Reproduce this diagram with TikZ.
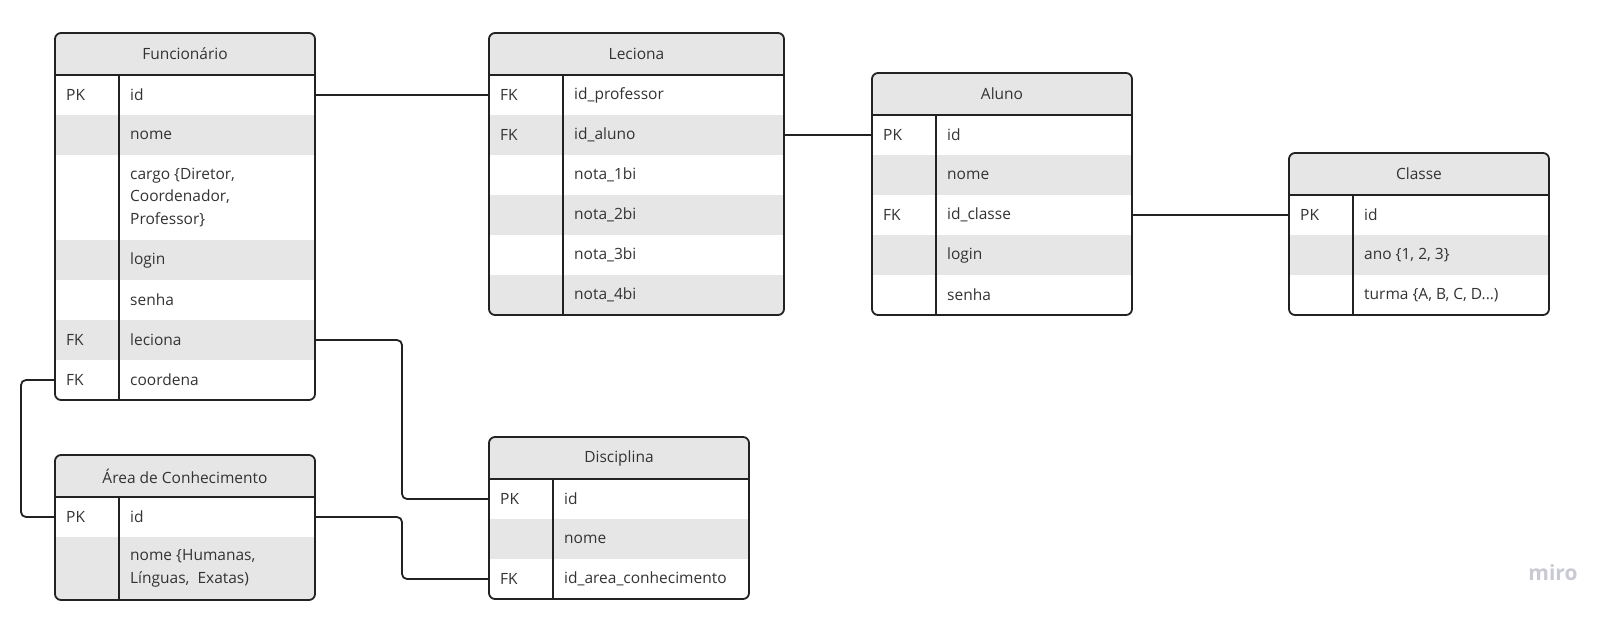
\documentclass[tikz,border=0pt]{standalone}
\usepackage{fontspec}
\setmainfont{Open Sans}
\usetikzlibrary{positioning}

\definecolor{rowgrey}{HTML}{E6E6E6}
\definecolor{inkdark}{HTML}{222222}
\definecolor{txtgrey}{HTML}{333333}
\definecolor{logogrey}{HTML}{C9C9D3}

% width of the current table and offset of its key column divider
\newcommand{\tblw}{260pt}
\newcommand{\divx}{64pt}

% one row: [height]{name}{node above}{fill}{key}{field}
\newcommand{\erow}[6][40pt]{%
  \node[rowbox, minimum height=#1, fill=#4, below=0pt of #3] (#2) {};
  \node[keytext] at ([xshift=11pt]#2.west) {#5};
  \node[fieldtext] at ([xshift=\divx+11pt]#2.west) {#6};
}

% outline of a table from its header to its last row
\newcommand{\eframe}[2]{%
  \fill[white, even odd rule] (#1.north west) rectangle (#2.south east)
    [rounded corners=6pt] (#1.north west) rectangle (#2.south east);
  \draw[inkdark, line width=1.8pt] (#1.south west) -- (#1.south east);
  \draw[inkdark, line width=1.5pt] ([xshift=\divx]#1.south west) -- ([xshift=\divx]#2.south west);
  \draw[inkdark, line width=1.8pt, rounded corners=6pt] (#1.north west) rectangle (#2.south east);
}

\begin{document}
\begin{tikzpicture}[x=1pt, y=1pt,
    every node/.style={font=\fontsize{15.5}{22.7}\selectfont, text=txtgrey},
    headbox/.style={anchor=north west, minimum width=\tblw, minimum height=42pt,
      inner sep=0pt, outer sep=0pt, fill=rowgrey},
    rowbox/.style={minimum width=\tblw, inner sep=0pt, outer sep=0pt},
    keytext/.style={anchor=west, inner sep=0pt},
    fieldtext/.style={anchor=west, inner sep=0pt, align=left},
    link/.style={inkdark, line width=1.8pt, rounded corners=5pt}]
  \useasboundingbox (0,0) rectangle (1617,-618);

  % Funcionário
  \node[headbox] (fun) at (55,-33) {Funcionário};
  \erow{fun-id}{fun}{white}{PK}{id}
  \erow{fun-nome}{fun-id}{rowgrey}{}{nome}
  \erow[85pt]{fun-cargo}{fun-nome}{white}{}{cargo \{Diretor,\\Coordenador,\\Professor\}}
  \erow{fun-login}{fun-cargo}{rowgrey}{}{login}
  \erow{fun-senha}{fun-login}{white}{}{senha}
  \erow{fun-leciona}{fun-senha}{rowgrey}{FK}{leciona}
  \erow{fun-coordena}{fun-leciona}{white}{FK}{coordena}
  \eframe{fun}{fun-coordena}

  % Leciona
  \renewcommand{\tblw}{295pt}\renewcommand{\divx}{74pt}
  \node[headbox] (lec) at (489,-33) {Leciona};
  \erow{lec-prof}{lec}{white}{FK}{id\_professor}
  \erow{lec-aluno}{lec-prof}{rowgrey}{FK}{id\_aluno}
  \erow{lec-n1}{lec-aluno}{white}{}{nota\_1bi}
  \erow{lec-n2}{lec-n1}{rowgrey}{}{nota\_2bi}
  \erow{lec-n3}{lec-n2}{white}{}{nota\_3bi}
  \erow{lec-n4}{lec-n3}{rowgrey}{}{nota\_4bi}
  \eframe{lec}{lec-n4}

  % Aluno
  \renewcommand{\tblw}{260pt}\renewcommand{\divx}{64pt}
  \node[headbox] (alu) at (872,-73) {Aluno};
  \erow{alu-id}{alu}{white}{PK}{id}
  \erow{alu-nome}{alu-id}{rowgrey}{}{nome}
  \erow{alu-classe}{alu-nome}{white}{FK}{id\_classe}
  \erow{alu-login}{alu-classe}{rowgrey}{}{login}
  \erow{alu-senha}{alu-login}{white}{}{senha}
  \eframe{alu}{alu-senha}

  % Classe
  \node[headbox] (cla) at (1289,-153) {Classe};
  \erow{cla-id}{cla}{white}{PK}{id}
  \erow{cla-ano}{cla-id}{rowgrey}{}{ano \{1, 2, 3\}}
  \erow{cla-turma}{cla-ano}{white}{}{turma \{A, B, C, D...)}
  \eframe{cla}{cla-turma}

  % Área de Conhecimento
  \node[headbox] (are) at (55,-455) {Área de Conhecimento};
  \erow{are-id}{are}{white}{PK}{id}
  \erow[63pt]{are-nome}{are-id}{rowgrey}{}{nome \{Humanas,\\Línguas,\ \ Exatas)}
  \eframe{are}{are-nome}

  % Disciplina
  \node[headbox] (dis) at (489,-437) {Disciplina};
  \erow{dis-id}{dis}{white}{PK}{id}
  \erow{dis-nome}{dis-id}{rowgrey}{}{nome}
  \erow{dis-fk}{dis-nome}{white}{FK}{id\_area\_conhecimento}
  \eframe{dis}{dis-fk}

  % Relations
  \draw[link] (fun-id.east) -- (lec-prof.west);
  \draw[link] (lec-aluno.east) -- (alu-id.west);
  \draw[link] (alu-classe.east) -- (cla-id.west);
  \draw[link] (fun-leciona.east) -- ++(87,0) |- (dis-id.west);
  \draw[link] (fun-coordena.west) -- ++(-34,0) |- (are-id.west);
  \draw[link] (are-id.east) -- ++(87,0) |- (dis-fk.west);

  % Logo
  \node[font=\fontsize{21}{21}\selectfont\bfseries, text=logogrey] (logo) at (1553,-573) {miro};
\end{tikzpicture}
\end{document}
